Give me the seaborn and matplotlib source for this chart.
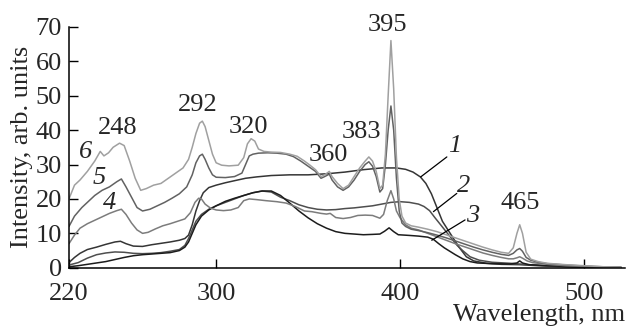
import numpy as np
import pandas as pd
import matplotlib
matplotlib.use("Agg")
import matplotlib.pyplot as plt
import seaborn as sns

# Emission spectra, curves 1-6 (wavelength in nm, intensity in arb. units)
wl_1 = [220, 223, 226, 230, 235, 240, 245, 248, 251, 255, 260, 265, 270, 275, 280, 283, 285, 287, 289, 291,
        293, 296, 300, 305, 310, 316, 322, 330, 340, 350, 360, 370, 380, 390, 398, 403, 407, 411, 414, 417,
        420, 423, 426, 429, 432, 436, 440, 447, 455, 465, 475, 490, 505, 520]
int_1 = [1.5, 3.0, 4.2, 5.3, 6.0, 6.8, 7.5, 7.7, 7.0, 6.3, 6.2, 6.7, 7.1, 7.5, 8.0, 8.5, 9.5, 12.5, 16.5, 19.5,
         21.8, 23.3, 24.0, 24.7, 25.3, 26.0, 26.4, 26.8, 27.0, 27.0, 27.3, 27.8, 28.5, 29.0, 29.0, 28.6, 27.8, 26.4, 24.5, 21.5,
         17.5, 13.5, 11.0, 8.5, 6.0, 3.2, 2.0, 1.3, 1.0, 0.9, 0.6, 0.3, 0.15, 0.1]

wl_2 = [220, 225, 230, 235, 240, 245, 250, 255, 260, 265, 270, 275, 280, 283, 285, 287, 289, 292, 296, 300,
        305, 310, 315, 320, 325, 330, 335, 340, 345, 350, 355, 360, 365, 370, 375, 380, 385, 390, 395, 400,
        405, 410, 413, 416, 419, 422, 425, 428, 431, 434, 438, 443, 450, 460, 470, 480, 495, 510, 520]
int_2 = [0.8, 1.5, 2.8, 3.8, 4.3, 4.6, 4.5, 4.2, 4.1, 4.2, 4.4, 4.8, 5.3, 6.5, 8.5, 11.0, 13.5, 15.5, 17.0, 18.0,
         19.0, 20.0, 21.0, 21.8, 22.3, 22.0, 20.5, 19.5, 18.3, 17.5, 17.0, 16.8, 16.9, 17.2, 17.4, 17.7, 18.0, 18.5, 19.0, 19.2,
         19.0, 18.5, 17.8, 16.6, 14.5, 12.5, 10.5, 8.5, 6.5, 5.0, 3.2, 2.2, 1.6, 1.3, 0.9, 0.6, 0.3, 0.15, 0.1]

wl_3 = [220, 225, 230, 235, 240, 245, 250, 255, 260, 265, 270, 275, 280, 283, 285, 287, 289, 292, 296, 300,
        305, 310, 315, 320, 325, 330, 335, 340, 345, 350, 355, 360, 365, 370, 375, 380, 385, 389, 391.5, 394,
        396.5, 399, 405, 410, 415, 418, 421, 424, 427, 430, 434, 438, 442, 450, 460, 463.5, 465, 466.5, 470, 480,
        495, 510, 520]
int_3 = [0.3, 0.6, 1.0, 1.4, 1.8, 2.4, 3.0, 3.5, 3.8, 4.0, 4.2, 4.4, 5.0, 6.0, 7.5, 10.0, 12.5, 15.0, 16.8, 18.0,
         19.3, 20.2, 21.0, 21.8, 22.3, 22.3, 21.0, 18.8, 16.5, 14.5, 12.8, 11.5, 10.5, 10.0, 9.8, 9.6, 9.7, 9.8, 10.6, 11.6,
         10.5, 9.6, 9.4, 9.2, 8.9, 8.3, 7.0, 5.8, 4.8, 3.8, 2.6, 1.8, 1.4, 1.2, 1.1, 1.4, 2.0, 1.4, 0.9, 0.6,
         0.3, 0.15, 0.1]

wl_4 = [220, 223, 226, 230, 234, 238, 242, 246, 248.5, 251, 254, 257, 260, 263, 267, 271, 275, 279, 283, 286,
        288.5, 290.5, 292, 294, 297, 300, 304, 308, 312, 315, 318, 322, 327, 333, 338, 343, 348, 352, 357, 360,
        362, 365, 369, 373, 377, 381, 385, 389, 391, 393, 395, 396.5, 398, 400, 403, 406, 410, 415, 420, 425,
        430, 435, 440, 445, 450, 455, 459, 461.5, 463.5, 465, 466.5, 469, 472, 480, 490, 500, 510, 520]
int_4 = [7.0, 9.5, 11.5, 12.8, 13.8, 14.8, 15.8, 16.6, 17.0, 15.5, 13.0, 11.0, 10.0, 10.3, 11.3, 12.2, 12.8, 13.5, 14.2, 16.0,
         19.0, 20.2, 20.0, 18.5, 17.3, 16.8, 16.6, 16.8, 17.5, 19.5, 20.0, 19.8, 19.5, 19.2, 18.8, 17.8, 16.5, 16.3, 15.8, 15.6,
         15.8, 14.6, 14.3, 14.6, 15.2, 15.3, 15.2, 14.4, 15.5, 19.5, 22.4, 20.0, 16.5, 14.5, 12.5, 11.5, 11.0, 10.0, 9.0, 8.0,
         7.0, 6.1, 5.2, 4.3, 3.6, 3.0, 2.6, 2.6, 2.9, 3.2, 2.8, 2.0, 1.5, 1.0, 0.6, 0.4, 0.2, 0.1]

wl_5 = [220, 223, 227, 230, 234, 238, 242, 246, 248.5, 251, 254, 257, 260, 264, 268, 272, 276, 280, 284, 287,
        289, 291, 292.5, 294, 296, 298, 300, 305, 310, 314, 316, 318, 320, 323, 328, 333, 338, 342, 346, 350,
        354, 357, 359, 361.5, 363, 366, 369, 372, 375, 378, 381, 383, 385, 387, 389, 390.5, 392, 393.5, 395, 396.5,
        398, 399.5, 401, 403, 406, 410, 415, 420, 425, 430, 435, 440, 445, 450, 455, 459, 461.5, 463.5, 465, 466.5,
        468.5, 471, 475, 480, 490, 500, 510, 520]
int_5 = [12.0, 15.0, 17.5, 19.0, 21.0, 22.5, 23.5, 25.0, 25.8, 23.5, 20.5, 17.5, 16.5, 17.0, 18.0, 19.0, 20.2, 21.5, 23.5, 27.0,
         30.5, 32.5, 33.0, 31.5, 29.0, 27.0, 26.3, 26.2, 26.5, 27.5, 30.0, 32.5, 33.0, 33.3, 33.4, 33.3, 33.0, 32.3, 31.0, 29.5,
         28.0, 26.0, 26.5, 27.2, 25.5, 23.5, 22.5, 23.5, 25.5, 28.0, 30.0, 30.8, 29.5, 26.5, 22.0, 23.0, 30.0, 40.0, 47.0, 40.0,
         26.0, 16.5, 13.0, 12.0, 11.2, 10.8, 10.2, 9.5, 8.7, 7.8, 6.9, 6.0, 5.2, 4.5, 3.9, 3.6, 4.2, 5.2, 5.6, 4.8,
         3.0, 2.2, 1.6, 1.2, 0.8, 0.5, 0.3, 0.2]

wl_6 = [220, 223, 226, 230, 234, 237, 239, 241.5, 244, 247.5, 250, 253, 256, 259, 262, 266, 270, 274, 278, 282,
        285, 287, 289, 291, 292.5, 294, 296, 298, 300, 303, 307, 312, 315, 317, 319, 321, 323, 326, 330, 335,
        340, 344, 348, 351, 354, 357, 359, 361.5, 363, 366, 369, 372, 375, 378, 381, 383, 385, 387, 389, 390.5,
        392, 393.5, 395, 396.5, 398, 399.5, 401, 403, 406, 410, 415, 420, 425, 430, 435, 440, 445, 450, 455, 459,
        461.5, 463.5, 465, 466.5, 468.5, 471, 475, 480, 490, 500, 510, 520]
int_6 = [20.0, 24.0, 25.5, 28.0, 31.0, 33.8, 32.5, 33.4, 35.0, 36.2, 35.5, 31.0, 26.0, 22.5, 23.0, 24.0, 24.5, 26.0, 27.5, 29.0,
         31.5, 35.0, 39.0, 42.0, 42.6, 41.0, 37.0, 33.0, 30.5, 29.8, 29.6, 29.8, 32.0, 36.0, 37.5, 36.8, 34.5, 33.8, 33.6, 33.5,
         33.0, 32.4, 31.0, 29.8, 28.5, 26.5, 27.0, 28.0, 26.5, 24.5, 23.0, 24.0, 26.5, 29.0, 31.0, 32.2, 31.0, 28.0, 23.0, 24.0,
         33.0, 50.0, 66.0, 52.0, 32.0, 20.0, 15.0, 13.0, 12.2, 11.8, 11.2, 10.5, 9.6, 8.7, 7.8, 6.9, 6.0, 5.2, 4.5, 4.2,
         5.8, 10.0, 12.5, 10.0, 4.5, 2.5, 1.8, 1.3, 0.9, 0.6, 0.3, 0.2]

curve_ids = ["1", "2", "3", "4", "5", "6"]
line_colors = ["#353535", "#4e4e4e", "#1c1c1c", "#7c7c7c", "#626262", "#a0a0a0"]

peak_labels = ["248", "292", "320", "360", "383", "395", "465"]
peak_label_x = [246.6, 289.8, 317.5, 361.0, 379.2, 393.1, 465.2]
peak_label_y = [40.6, 47.3, 41.0, 32.7, 39.5, 70.5, 18.7]

x_ticks = [220, 300, 400, 500]
y_ticks = [0, 10, 20, 30, 40, 50, 60, 70]

frames = []
for cid, wl, inten in zip(curve_ids,
                          [wl_1, wl_2, wl_3, wl_4, wl_5, wl_6],
                          [int_1, int_2, int_3, int_4, int_5, int_6]):
    frames.append(pd.DataFrame({"wavelength": wl, "intensity": inten, "curve": cid}))
df = pd.concat(frames, ignore_index=True)

sns.set_style("ticks")
plt.rcParams["font.family"] = ["Liberation Serif", "DejaVu Serif"]
FS = 19

fig = plt.figure(figsize=(6.27, 3.31), dpi=100)
ax = fig.add_axes([0.110, 0.191, 0.887, 0.728])

sns.lineplot(data=df, x="wavelength", y="intensity", hue="curve",
             hue_order=curve_ids, palette=dict(zip(curve_ids, line_colors)),
             estimator=None, sort=False, linewidth=1.1, legend=False, ax=ax)

ax.set_xlim(220, 522.3)
ax.set_ylim(0, 70)
ax.set_xticks(x_ticks)
ax.set_yticks(y_ticks)
ax.tick_params(direction="in", length=6.5, width=1.0, labelsize=FS, color="black")
ax.tick_params(axis="x", pad=11)
ax.tick_params(axis="y", pad=5)
sns.despine(ax=ax)
for side in ("left", "bottom"):
    ax.spines[side].set_linewidth(1.1)
    ax.spines[side].set_color("black")

ax.set_xlabel("Wavelength, nm", fontsize=FS, loc="right", labelpad=-1)
ax.set_ylabel("Intensity, arb. units", fontsize=FS, labelpad=2)

# Peak positions
for txt, px, py in zip(peak_labels, peak_label_x, peak_label_y):
    ax.text(px, py, txt, fontsize=FS, ha="center", va="center")

# Curve numbers on the left side
for txt, px, py in zip(["6", "5", "4"], [229.2, 236.5, 242.3], [33.6, 26.0, 18.8]):
    ax.text(px, py, txt, fontsize=FS, style="italic", ha="center", va="center")

# Curve numbers with leader lines on the right side
leaders = [("1", (429.8, 35.3), (425.4, 32.2), (411.2, 26.4)),
           ("2", (434.6, 23.7), (430.8, 21.6), (418.1, 16.3)),
           ("3", (439.4, 15.0), (435.3, 13.9), (417.2, 8.0))]
for txt, pos, start, end in leaders:
    ax.text(pos[0], pos[1], txt, fontsize=FS, style="italic", ha="center", va="center")
    ax.plot([start[0], end[0]], [start[1], end[1]], color="black", lw=0.9)

fig.savefig("out.png", dpi=100)
